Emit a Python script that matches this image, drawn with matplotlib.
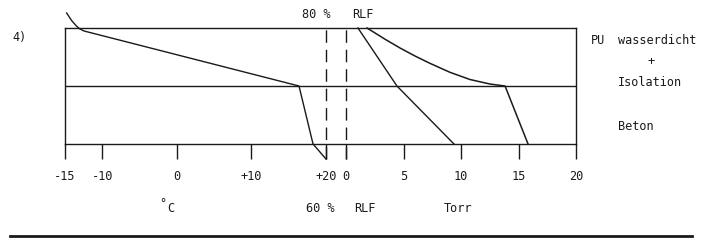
import matplotlib
matplotlib.use("Agg")
import matplotlib.pyplot as plt

plt.rcParams['font.family'] = ['DejaVu Sans Mono']

W, H = 702, 253

# --- data ---
# layer coordinate: 0 = bottom of Beton, 1 = Beton/PU boundary, 2 = top of PU
temp_C = [-14.78, -14.10, -13.43, -12.99, -12.45, -11.92, 16.38, 18.26, 20.0]
temp_layer = [2.259, 2.126, 2.029, 1.983, 1.948, 1.931, 1.0, 0.0, -0.259]

sat_torr = [1.83, 3.39, 4.70, 6.00, 7.30, 9.04, 10.78, 12.52, 13.83, 15.83]
sat_layer = [2.0, 1.807, 1.655, 1.517, 1.391, 1.236, 1.112, 1.034, 1.0, 0.0]

vap_torr = [1.04, 4.43, 9.39]
vap_layer = [2.0, 1.0, 0.0]

temp_ticks = [-15, -10, 0, 10, 20]
temp_labels = ['-15', '-10', '0', '+10', '+20']
torr_ticks = [0, 5, 10, 15, 20]
torr_labels = ['0', '5', '10', '15', '20']

ink = '#1a1a1a'
fs = 8.6

fig = plt.figure(figsize=(W / 100, H / 100), dpi=100)

# frame in pixel coords
x0, x1 = 65, 576
ytop, ybot = 29, 145
ax = fig.add_axes([x0 / W, 1 - ybot / H, (x1 - x0) / W, (ybot - ytop) / H])
px_per_C = (326 - 65) / 35.0
ax.set_xlim(-15, -15 + (x1 - x0) / px_per_C)
ax.set_ylim(0, 2)
axp = ax.twiny()
px_per_torr = (576 - 346) / 20.0
axp.set_xlim((x0 - 346) / px_per_torr, 20)

for a in (ax, axp):
    for s in a.spines.values():
        s.set_color(ink)
        s.set_linewidth(1.0)
    a.set_yticks([])
axp.spines[:].set_visible(False)

ax.axhline(1.0, color=ink, lw=1.0)

tick_len = 15 * 72 / 100
ax.set_xticks(temp_ticks)
ax.set_xticklabels(temp_labels)
ax.tick_params(axis='x', direction='out', length=tick_len, width=1.0,
               color=ink, labelsize=fs, pad=7, labelcolor=ink)
axp.xaxis.set_ticks_position('bottom')
axp.xaxis.set_label_position('bottom')
axp.set_xticks(torr_ticks)
axp.set_xticklabels(torr_labels)
axp.tick_params(axis='x', direction='out', length=tick_len, width=1.0,
                color=ink, labelsize=fs, pad=7, labelcolor=ink,
                top=False, labeltop=False)

ylow = -(160 - 145) / ((ybot - ytop) / 2)
ax.plot([20, 20], [ylow, 2], color=ink, lw=1.0, dashes=(9, 5), clip_on=False)
axp.plot([0, 0], [ylow, 2], color=ink, lw=1.0, dashes=(9, 5), clip_on=False)

ax.plot(temp_C, temp_layer, color=ink, lw=1.0, clip_on=False)
axp.plot(sat_torr, sat_layer, color=ink, lw=1.1, clip_on=False)
axp.plot(vap_torr, vap_layer, color=ink, lw=1.0, clip_on=False)

def t(x, y, s, ha='center'):
    fig.text(x / W, 1 - y / H, s, ha=ha, va='center', fontsize=fs, color=ink)

t(12, 38, '4)', ha='left')
t(316, 14, '80 %')
t(363, 14, 'RLF')
t(591, 41, 'PU', ha='left')
t(618, 41, 'wasserdicht', ha='left')
t(651, 62, '+')
t(618, 82, 'Isolation', ha='left')
t(618, 127, 'Beton', ha='left')
t(159, 204, '\u00b0', ha='left')
t(167, 208, 'C', ha='left')
t(320, 208, '60 %')
t(365, 208, 'RLF')
t(458, 208, 'Torr')

fig.add_artist(plt.Line2D([10 / W, 692 / W], [1 - 237 / H, 1 - 237 / H],
                          color=ink, lw=2.0))

fig.savefig('out.png', dpi=100, facecolor='white')
